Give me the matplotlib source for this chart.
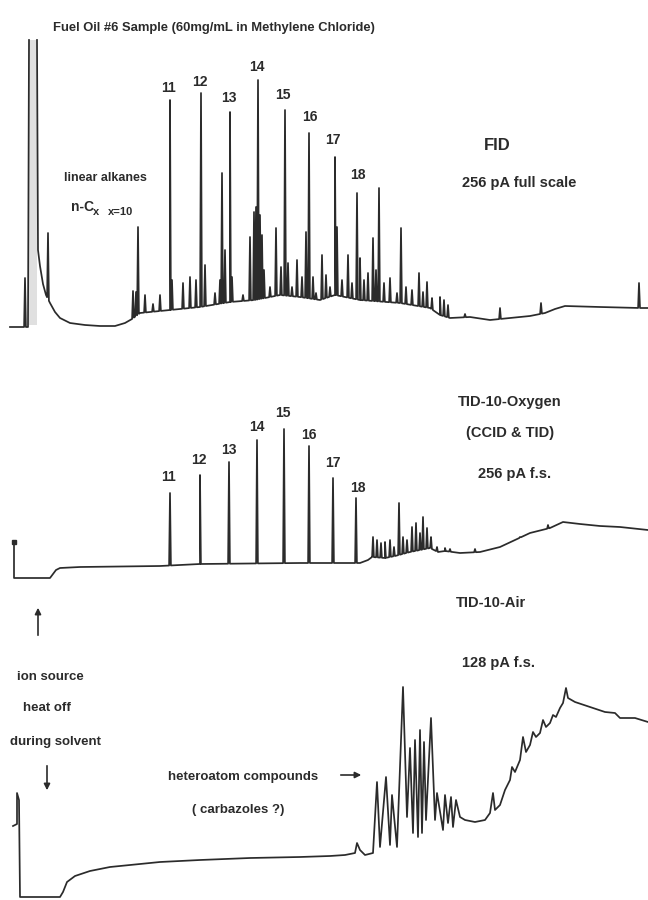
import numpy as np
import matplotlib.pyplot as plt

# positions: x = retention (px), y = pen position (px from top)

# --- FID trace ---
fid_base_x = [10, 28, 29, 33, 37, 38, 40, 43, 46, 50, 55, 60, 70, 85, 100, 115, 125, 132, 140,
              170, 200, 230, 255, 280, 300, 320, 335, 360, 400, 430, 440, 450, 470, 490, 510,
              530, 545, 555, 565, 600, 640, 648]
fid_base_y = [327, 327, 40, np.nan, 40, 250, 266, 284, 295, 303, 312, 318, 323, 325, 326, 326, 323,
              319, 313, 310, 307, 302, 300, 295, 297, 300, 295, 300, 303, 308, 315, 318, 317, 320,
              318, 316, 313, 309, 306, 307, 308, 308]
fid_peak_x = [25, 48, 133, 136, 138, 145, 153, 160, 170, 172, 183, 190, 196, 201, 205, 215, 220,
              222, 225, 230, 232, 243, 250, 254, 256, 258, 260, 262, 264, 270, 276, 281, 285, 288,
              292, 297, 302, 306, 309, 313, 316, 322, 326, 330, 335, 337, 342, 348, 352, 357, 360,
              364, 368, 373, 376, 379, 384, 390, 397, 401, 406, 412, 419, 423, 427, 432, 440, 444,
              448, 465, 500, 541, 639]
fid_peak_top = [278, 233, 291, 292, 227, 295, 304, 295, 100, 280, 283, 277, 280, 93, 265, 293, 280,
                173, 250, 112, 277, 295, 237, 212, 207, 80, 215, 235, 270, 287, 228, 267, 110, 263,
                287, 260, 277, 232, 133, 277, 293, 255, 275, 287, 157, 227, 280, 255, 283, 193, 258,
                280, 273, 238, 270, 188, 283, 278, 293, 228, 287, 290, 273, 292, 282, 298, 297, 300,
                305, 314, 308, 303, 283]
fid_num_x = [168, 200, 229, 257, 283, 310, 333, 358]
fid_num_y = [88, 82, 98, 67, 95, 117, 140, 175]
carbon_labels = ['11', '12', '13', '14', '15', '16', '17', '18']

# --- TID-10-Oxygen trace ---
oxy_base_x = [14, 14, 50, 53, 56, 60, 80, 160, 200, 300, 360, 368, 372, 385, 395, 410, 430, 438,
              445, 460, 480, 500, 515, 530, 550, 563, 580, 600, 620, 648]
oxy_base_y = [542, 578, 578, 574, 570, 568, 567, 566, 564, 563, 563, 560, 557, 558, 556, 552, 548,
              552, 551, 553, 552, 547, 540, 533, 528, 522, 524, 526, 527, 530]
oxy_peak_x = [170, 200, 229, 257, 284, 309, 333, 356, 373, 377, 381, 385, 390, 394, 399, 403, 407,
              412, 416, 420, 423, 427, 431, 437, 445, 450, 475, 520, 548]
oxy_peak_top = [493, 475, 462, 440, 429, 446, 478, 498, 537, 540, 543, 542, 540, 547, 503, 537, 540,
                527, 523, 533, 517, 528, 537, 547, 548, 549, 549, 537, 525]
oxy_num_x = [169, 199, 229, 257, 283, 309, 333, 358]
oxy_num_y = [477, 460, 450, 427, 413, 435, 463, 488]

# --- TID-10-Air trace ---
air_x = [13, 17, 17, 19, 20, 60, 63, 67, 75, 90, 110, 130, 160, 200, 250, 300, 330, 345, 355, 357,
         360, 365, 373, 377, 380, 386, 390, 392, 397, 403, 407, 410, 413, 415, 418, 420, 422, 424,
         426, 431, 435, 437, 443, 445, 448, 451, 453, 456, 460, 465, 475, 485, 490, 493, 495, 500,
         505, 510, 512, 515, 520, 523, 526, 530, 533, 536, 540, 543, 546, 550, 553, 556, 560, 563,
         566, 568, 575, 590, 605, 615, 620, 635, 648]
air_y = [826, 824, 793, 800, 897, 897, 892, 882, 876, 871, 867, 865, 862, 860, 858, 857, 856, 855,
         853, 843, 850, 855, 853, 782, 847, 777, 845, 795, 847, 687, 817, 748, 833, 740, 837, 730,
         833, 742, 820, 718, 820, 793, 830, 795, 823, 797, 827, 800, 817, 820, 822, 820, 813, 793,
         810, 805, 790, 780, 767, 772, 760, 737, 752, 745, 732, 737, 733, 720, 727, 723, 715, 717,
         708, 703, 688, 698, 702, 707, 712, 713, 718, 718, 722]

ink = '#2b2b2b'
sans = ['Liberation Sans', 'DejaVu Sans']


def build_trace(bx, by, px, pt, w=0.9):
    xs = list(bx)
    ys = list(by)
    bx = np.asarray(bx, float)
    by = np.asarray(by, float)
    for x, top in zip(px, pt):
        for dx in (-w, 0.0, w):
            xs.append(x + dx)
            ys.append(top if dx == 0 else np.interp(x + dx, bx, by))
    order = sorted(range(len(xs)), key=lambda i: xs[i])
    return [xs[i] for i in order], [ys[i] for i in order]


fig = plt.figure(figsize=(6.48, 9.0), dpi=100)
ax = fig.add_axes([0, 0, 1, 1])
ax.set_xlim(0, 648)
ax.set_ylim(900, 0)
ax.axis('off')

# FID
fx, fy = build_trace(fid_base_x, fid_base_y, fid_peak_x, fid_peak_top)
ax.fill_between([29, 37], 40, 325, color='0.88', lw=0)
ax.plot(fx, fy, color=ink, lw=1.25)
for lab, x, y in zip(carbon_labels, fid_num_x, fid_num_y):
    ax.text(x, y, lab, ha='center', va='center', fontsize=10, fontweight='bold',
            family=sans, color=ink)

# TID oxygen
ox, oy = build_trace(oxy_base_x, oxy_base_y, oxy_peak_x, oxy_peak_top)
ax.plot(ox, oy, color=ink, lw=1.25)
ax.plot([14], [542], 's', color=ink, ms=3)
for lab, x, y in zip(carbon_labels, oxy_num_x, oxy_num_y):
    ax.text(x, y, lab, ha='center', va='center', fontsize=10, fontweight='bold',
            family=sans, color=ink)

# TID air
ax.plot(air_x, air_y, color=ink, lw=1.25)

# annotations
txt = dict(ha='center', va='center', fontweight='bold', family=sans, color=ink)
ax.text(214, 28, 'Fuel Oil #6 Sample (60mg/mL in Methylene Chloride)', fontsize=9.4, **txt)
ax.text(105, 178, 'linear alkanes', fontsize=9, **txt)
ax.text(82, 207, 'n-C', fontsize=10, **txt)
ax.text(96, 212, 'x', fontsize=8, **txt)
ax.text(121, 212, 'x=10', fontsize=8, **txt)
ax.text(497, 145, 'FID', fontsize=12, **txt)
ax.text(519, 183, '256 pA full scale', fontsize=10.5, **txt)
ax.text(510, 402, 'TID-10-Oxygen', fontsize=10.5, **txt)
ax.text(510, 433, '(CCID & TID)', fontsize=10.5, **txt)
ax.text(515, 474, '256 pA f.s.', fontsize=10.5, **txt)
ax.text(491, 603, 'TID-10-Air', fontsize=10.5, **txt)
ax.text(499, 663, '128 pA f.s.', fontsize=10.5, **txt)
ax.text(243, 777, 'heteroatom compounds', fontsize=9.5, **txt)
ax.text(238, 810, '( carbazoles ?)', fontsize=9.5, **txt)
ax.text(50, 677, 'ion source', fontsize=9.5, **txt)
ax.text(47, 708, 'heat off', fontsize=9.5, **txt)
ax.text(56, 742, 'during solvent', fontsize=9.5, **txt)

arrow = dict(arrowstyle='-|>', color=ink, lw=1.2, mutation_scale=9)
ax.annotate('', xy=(38, 605), xytext=(38, 638), arrowprops=arrow)
ax.annotate('', xy=(47, 793), xytext=(47, 763), arrowprops=arrow)
ax.annotate('', xy=(364, 775), xytext=(338, 775), arrowprops=arrow)

fig.savefig('out.png', dpi=100)
